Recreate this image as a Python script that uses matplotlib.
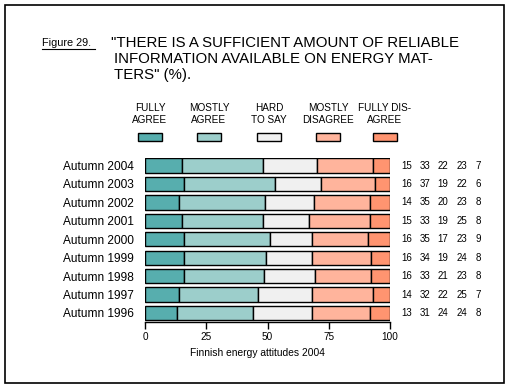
import numpy as np
import matplotlib.pyplot as plt
from matplotlib.patches import Rectangle

plt.rcParams['font.family'] = ['Liberation Sans', 'DejaVu Sans']

# Data (top row first)
years = ["Autumn 2004", "Autumn 2003", "Autumn 2002", "Autumn 2001", "Autumn 2000",
         "Autumn 1999", "Autumn 1998", "Autumn 1997", "Autumn 1996"]
fully_agree = [15, 16, 14, 15, 16, 16, 16, 14, 13]
mostly_agree = [33, 37, 35, 33, 35, 34, 33, 32, 31]
hard_to_say = [22, 19, 20, 19, 17, 19, 21, 22, 24]
mostly_disagree = [23, 22, 23, 25, 23, 24, 23, 25, 24]
fully_disagree = [7, 6, 8, 8, 9, 8, 8, 7, 8]

categories = ["FULLY\nAGREE", "MOSTLY\nAGREE", "HARD\nTO SAY", "MOSTLY\nDISAGREE", "FULLY DIS-\nAGREE"]
colors = ["#57aeae", "#9ccecb", "#f0f0f0", "#ffb49c", "#ff9470"]
ticks = [0, 25, 50, 75, 100]

series = [fully_agree, mostly_agree, hard_to_say, mostly_disagree, fully_disagree]
vals = np.array(series, dtype=float)
vals = vals / vals.sum(axis=0) * 100

W, H = 509, 389
fig = plt.figure(figsize=(W / 100, H / 100), dpi=100)

# outer frame
fig.patches.append(Rectangle((5 / W, 1 - 383 / H), 499 / W, 378 / H, transform=fig.transFigure,
                             fill=False, edgecolor='black', linewidth=1.2))

ax = fig.add_axes([145 / W, 1 - 322.2 / H, 245 / W, (322.2 - 157.8) / H])
n = len(years)
y = np.arange(n)[::-1]
left = np.zeros(n)
for v, c in zip(vals, colors):
    ax.barh(y, v, left=left, height=0.78, color=c, edgecolor='black', linewidth=1.0)
    left += v

ax.set_xlim(0, 100)
ax.set_ylim(-0.5, 8.42)
ax.set_yticks(y)
ax.set_yticklabels(years, fontsize=8.6)
ax.tick_params(axis='y', length=0, pad=8)
ax.set_xticks(ticks)
ax.set_xticklabels([str(t) for t in ticks], fontsize=7.2)
ax.tick_params(axis='x', length=5, width=1, pad=2)
for s in ['top', 'right', 'left']:
    ax.spines[s].set_visible(False)
ax.spines['bottom'].set_linewidth(1)

# values on the right of each bar
col_right = [412, 430, 448, 467, 481]
for i, yy in enumerate(y):
    ydisp = ax.transData.transform((0, yy))[1]
    for j in range(5):
        fig.text(col_right[j] / W, ydisp / H, str(series[j][i]), fontsize=7, ha='right', va='center')

fig.text(257 / W, 1 - 353 / H, "Finnish energy attitudes 2004", fontsize=7.4, ha='center', va='center')

# title
fig.text(42 / W, 1 - 43 / H, "Figure 29.", fontsize=7.8, ha='left', va='center')
fig.add_artist(plt.Line2D([42 / W, 95 / W], [1 - 49 / H, 1 - 49 / H], color='black', linewidth=0.8))
title_lines = ['"THERE IS A SUFFICIENT AMOUNT OF RELIABLE',
               'INFORMATION AVAILABLE ON ENERGY MAT-',
               'TERS" (%).']
for k, (line, yp) in enumerate(zip(title_lines, [43, 59, 75])):
    fig.text((111 if k == 0 else 114) / W, 1 - yp / H, line, fontsize=10.8, ha='left', va='center')

# legend
leg_x = [150, 209, 269, 328, 385]
for xc, lab, c in zip(leg_x, categories, colors):
    fig.text(xc / W, 1 - 114 / H, lab, fontsize=7.2, ha='center', va='center', linespacing=1.2)
    fig.patches.append(Rectangle(((xc - 12) / W, 1 - 141 / H), 24 / W, 8 / H, transform=fig.transFigure,
                                 facecolor=c, edgecolor='black', linewidth=1.0))

fig.savefig('out.png', dpi=100)
